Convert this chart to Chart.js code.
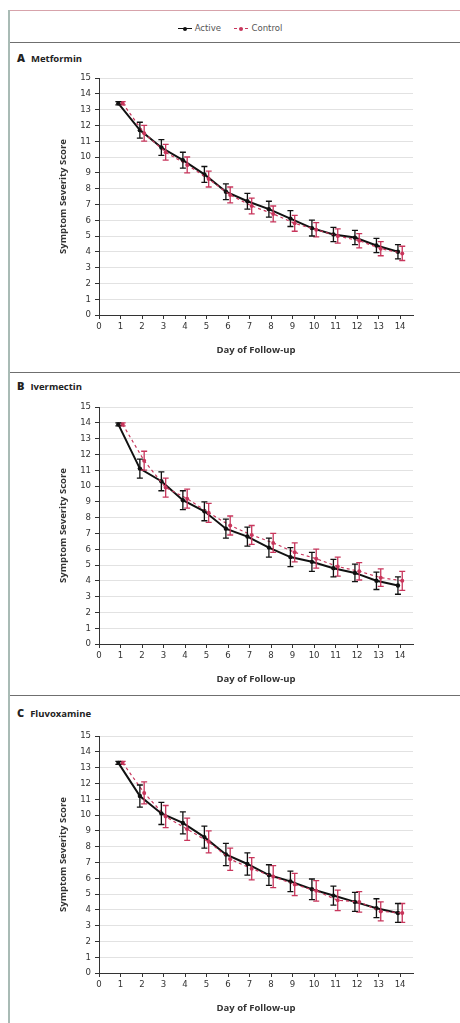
<!DOCTYPE html>
<html><head><meta charset="utf-8">
<script src="https://cdn.jsdelivr.net/npm/chart.js@4/dist/chart.umd.min.js"></script>
<style>
body{margin:0;background:#fff;width:460px;height:1023px;position:relative;overflow:hidden;font-family:"Open Sans","DejaVu Sans",sans-serif;}
.frame-top{position:absolute;left:8px;top:10px;width:452px;height:1px;background:#d7a3ab}
.frame-left{position:absolute;left:8px;top:10px;width:2px;height:1013px;background:#a9bbb5}
.sep{position:absolute;left:10px;width:450px;height:1px;background:#6f6f6f}
.ptitle{position:absolute;left:17px;font-size:9.5px;font-weight:bold;color:#222;white-space:nowrap}
.ptitle b{font-size:11px;margin-right:6px}
.cw{position:absolute;left:10px;width:448px;height:296px}
.legend{position:absolute;top:22px;left:0;width:460px;text-align:center;font-size:9.5px;color:#555;font-family:"Liberation Sans Narrow","DejaVu Sans Condensed",sans-serif}
.lg{display:inline-block;vertical-align:middle;position:relative;width:14px;height:8px;margin-right:3px}
.lg .ln{position:absolute;left:0;top:3.5px;width:14px;height:0}
.lg .dt{position:absolute;left:5px;top:2px;width:4px;height:4px;border-radius:50%}
</style>
</head><body>
<div class="frame-top"></div>
<div class="frame-left"></div>
<div class="legend">
  <span class="lg"><span class="ln" style="border-top:1.6px solid #111"></span><span class="dt" style="background:#111"></span></span>Active
  <span style="display:inline-block;width:8px"></span>
  <span class="lg"><span class="ln" style="border-top:1px dashed #c8365c"></span><span class="dt" style="background:#c8365c"></span></span>Control
</div>
<div class="sep" style="top:42px"></div>
<div class="ptitle" style="top:50px"><b>A</b>Metformin</div>
<div class="cw" style="top:64px"><canvas id="cA" width="448" height="296"></canvas></div>
<div class="sep" style="top:372px"></div>
<div class="ptitle" style="top:378px"><b>B</b>Ivermectin</div>
<div class="cw" style="top:393px"><canvas id="cB" width="448" height="296"></canvas></div>
<div class="sep" style="top:695px"></div>
<div class="ptitle" style="top:705px"><b>C</b>Fluvoxamine</div>
<div class="cw" style="top:722px"><canvas id="cC" width="448" height="296"></canvas></div>
<script>
// ---- data ----
const days = [1,2,3,4,5,6,7,8,9,10,11,12,13,14];
const xTickLabels = [0,1,2,3,4,5,6,7,8,9,10,11,12,13,14];
const yTickValues = [0,1,2,3,4,5,6,7,8,9,10,11,12,13,14,15];
const seriesNames = ['Active','Control'];

const metforminActive     = [13.4,11.7,10.6,9.8,8.9,7.8,7.2,6.7,6.1,5.5,5.1,4.9,4.4,4.0];
const metforminControl    = [13.4,11.5,10.3,9.5,8.6,7.6,6.9,6.4,5.8,5.4,5.0,4.7,4.2,3.9];
const metforminActiveErr  = [0.1,0.5,0.5,0.5,0.5,0.5,0.5,0.5,0.5,0.5,0.45,0.45,0.45,0.45];
const metforminControlErr = [0.1,0.5,0.5,0.5,0.5,0.5,0.5,0.5,0.5,0.45,0.45,0.45,0.45,0.45];

const ivermectinActive     = [13.9,11.1,10.3,9.1,8.4,7.3,6.8,6.1,5.5,5.2,4.8,4.5,4.0,3.7];
const ivermectinControl    = [13.9,11.6,9.9,9.2,8.3,7.5,6.9,6.4,5.8,5.4,4.9,4.6,4.2,4.0];
const ivermectinActiveErr  = [0.1,0.6,0.6,0.6,0.6,0.6,0.6,0.6,0.6,0.6,0.55,0.55,0.55,0.55];
const ivermectinControlErr = [0.1,0.6,0.6,0.6,0.6,0.6,0.6,0.6,0.6,0.6,0.6,0.55,0.55,0.6];

const fluvoxamineActive     = [13.3,11.2,10.1,9.5,8.6,7.5,6.9,6.2,5.8,5.3,4.9,4.5,4.1,3.8];
const fluvoxamineControl    = [13.3,11.4,9.9,9.1,8.3,7.2,6.6,6.1,5.6,5.2,4.6,4.5,3.9,3.8];
const fluvoxamineActiveErr  = [0.1,0.7,0.7,0.7,0.7,0.7,0.7,0.65,0.65,0.65,0.6,0.6,0.6,0.6];
const fluvoxamineControlErr = [0.1,0.7,0.7,0.7,0.7,0.7,0.7,0.7,0.7,0.65,0.65,0.65,0.6,0.6];

// ---- style ----
const ACTIVE_COLOR = '#111111';
const CONTROL_COLOR = '#c8365c';
const ACTIVE_SHIFT = -0.1, CONTROL_SHIFT = 0.1;
const tickFont = {family:'"Liberation Sans Narrow","DejaVu Sans Condensed",sans-serif', size:9.5};
const titleFont = {family:'"Open Sans","DejaVu Sans",sans-serif', size:9.5, weight:'bold'};

const errorBars = {
  id:'errorBars',
  afterDatasetsDraw(chart){
    const ctx = chart.ctx, xs = chart.scales.x, ys = chart.scales.y;
    chart.data.datasets.forEach((ds, i) => {
      if (!ds.err) return;
      ctx.save();
      ctx.strokeStyle = ds.borderColor;
      ctx.lineWidth = 1.3;
      ds.data.forEach((p, j) => {
        const x = xs.getPixelForValue(p.x);
        const y1 = ys.getPixelForValue(p.y - ds.err[j]);
        const y2 = ys.getPixelForValue(p.y + ds.err[j]);
        ctx.beginPath();
        ctx.moveTo(x, y1); ctx.lineTo(x, y2);
        ctx.moveTo(x-3, y1); ctx.lineTo(x+3, y1);
        ctx.moveTo(x-3, y2); ctx.lineTo(x+3, y2);
        ctx.stroke();
      });
      ctx.restore();
    });
  }
};

function makeChart(id, active, control, activeErr, controlErr){
  new Chart(document.getElementById(id), {
    type:'line',
    data:{datasets:[
      {label:seriesNames[1], data:days.map((d,i)=>({x:d+CONTROL_SHIFT, y:control[i]})), err:controlErr,
       borderColor:CONTROL_COLOR, backgroundColor:CONTROL_COLOR, borderWidth:1.2, borderDash:[3,3],
       pointRadius:2, pointBorderWidth:0, tension:0},
      {label:seriesNames[0], data:days.map((d,i)=>({x:d+ACTIVE_SHIFT, y:active[i]})), err:activeErr,
       borderColor:ACTIVE_COLOR, backgroundColor:ACTIVE_COLOR, borderWidth:2,
       pointRadius:2.2, pointBorderWidth:0, tension:0}
    ]},
    options:{
      responsive:false, animation:false, events:[],
      layout:{padding:{left:0,right:45,top:14,bottom:0}},
      plugins:{legend:{display:false}, tooltip:{enabled:false}},
      scales:{
        x:{type:'linear', min:0, max:14.6,
           afterBuildTicks(s){ s.ticks = xTickLabels.map(v=>({value:v})); },
           afterFit(s){ s.height = 45; },
           grid:{drawOnChartArea:false, drawTicks:true, tickLength:4, tickColor:'#333'},
           border:{display:true, color:'#333', width:1},
           ticks:{font:tickFont, color:'#333', padding:2, maxRotation:0, autoSkip:false},
           title:{display:true, text:'Day of Follow-up', font:titleFont, color:'#333', padding:{top:0,bottom:4}}},
        y:{min:0, max:15,
           afterBuildTicks(s){ s.ticks = yTickValues.map(v=>({value:v})); },
           afterFit(s){ s.width = 89; },
           grid:{color:'#e2e2e2', lineWidth:1, drawTicks:true, tickLength:4, tickColor:'#333'},
           border:{display:true, color:'#333', width:1},
           ticks:{font:tickFont, color:'#333', padding:4, autoSkip:false},
           title:{display:true, text:'Symptom Severity Score', font:titleFont, color:'#333', padding:{top:48,bottom:0}}}
      }
    },
    plugins:[errorBars]
  });
}
makeChart('cA', metforminActive, metforminControl, metforminActiveErr, metforminControlErr);
makeChart('cB', ivermectinActive, ivermectinControl, ivermectinActiveErr, ivermectinControlErr);
makeChart('cC', fluvoxamineActive, fluvoxamineControl, fluvoxamineActiveErr, fluvoxamineControlErr);
</script>
</body></html>
